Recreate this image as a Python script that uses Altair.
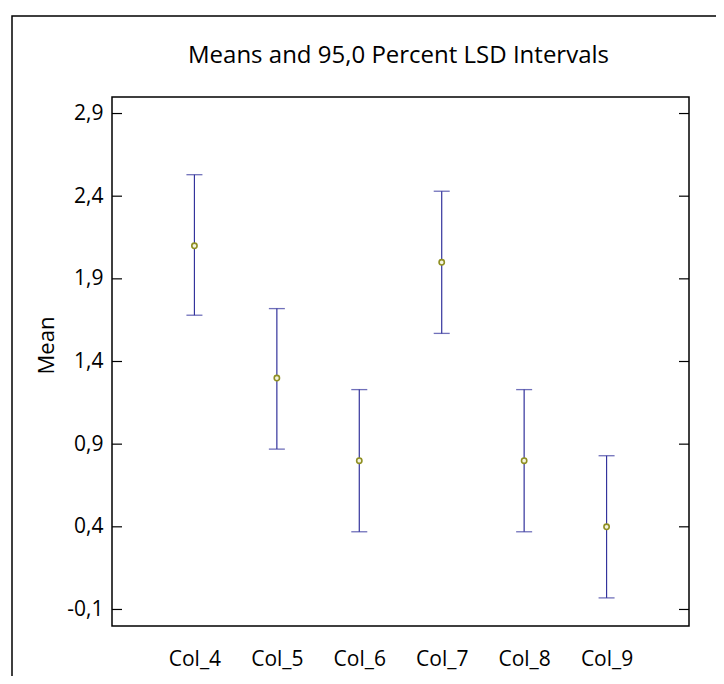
import altair as alt
import pandas as pd

cols = ["Col_4", "Col_5", "Col_6", "Col_7", "Col_8", "Col_9"]
means = [2.10, 1.30, 0.80, 2.00, 0.80, 0.40]
lower = [1.68, 0.87, 0.37, 1.57, 0.37, -0.03]
upper = [2.53, 1.72, 1.23, 2.43, 1.23, 0.83]
ytick_values = [-0.1, 0.4, 0.9, 1.4, 1.9, 2.4, 2.9]
title_text = "Means and 95,0 Percent LSD Intervals"

W, H = 577, 529
FONT = "Open Sans"
BAR = "#33339c"

df = pd.DataFrame({"col": cols, "mean": means, "lower": lower, "upper": upper})
df_ticks = pd.DataFrame({"v": ytick_values})
df_one = pd.DataFrame({"k": [0]})

yscale = alt.Scale(domain=[-0.2, 3.0], nice=False, zero=False)
xscale = alt.Scale(type="point", padding=1.06)
xenc = alt.X(
    "col:N", sort=cols, scale=xscale,
    axis=alt.Axis(title=None, labelAngle=0, ticks=False, domain=False,
                  labelPadding=22, labelFontSize=21, labelFont=FONT,
                  labelColor="black"),
)

rules = alt.Chart(df).mark_rule(color=BAR, strokeWidth=1.2).encode(
    x=xenc,
    y=alt.Y(
        "lower:Q", scale=yscale,
        axis=alt.Axis(
            values=ytick_values, ticks=False, domain=False, grid=False,
            labelExpr="replace(replace(format(datum.value, '.1f'), '.', ','), '\u2212', '-')",
            labelFontSize=21, labelFont=FONT, labelColor="black", labelPadding=9,
            title="Mean", titleFontSize=22, titleFont=FONT, titleFontWeight="normal",
            titleColor="black", titleX=-66, titleY=248, titleBaseline="middle",
            titleAlign="center",
        ),
    ),
    y2="upper:Q",
)

caps_lo = alt.Chart(df).mark_tick(color=BAR, size=16, thickness=1.3).encode(
    x=xenc, y=alt.Y("lower:Q", scale=yscale)
)
caps_hi = alt.Chart(df).mark_tick(color=BAR, size=16, thickness=1.3).encode(
    x=xenc, y=alt.Y("upper:Q", scale=yscale)
)
points = alt.Chart(df).mark_point(
    shape="circle", size=28, filled=False, color="#8f8f22", strokeWidth=1.6,
    fill="#f4f4e0", fillOpacity=1,
).encode(x=xenc, y=alt.Y("mean:Q", scale=yscale))

ticks_left = alt.Chart(df_ticks).mark_rule(color="black", strokeWidth=1.2).encode(
    x=alt.value(0), x2=alt.value(10), y=alt.Y("v:Q", scale=yscale)
)
ticks_right = alt.Chart(df_ticks).mark_rule(color="black", strokeWidth=1.2).encode(
    x=alt.value(W - 10), x2=alt.value(W), y=alt.Y("v:Q", scale=yscale)
)
frame = alt.Chart(df_one).mark_rect(
    fill="transparent", stroke="black", strokeWidth=1.5
).encode(
    x=alt.value(-100), x2=alt.value(W + 60), y=alt.value(-81), y2=alt.value(H + 80)
)
title = alt.Chart(df_one).mark_text(
    font=FONT, fontSize=24, color="black", align="center", baseline="alphabetic"
).encode(
    x=alt.value(W / 2 - 2), y=alt.value(-34), text=alt.value(title_text)
)

chart = (
    alt.layer(frame, title, rules, caps_lo, caps_hi, points, ticks_left, ticks_right)
    .properties(
        width=W, height=H,
        padding={"left": 104, "top": 89, "right": 27, "bottom": 50},
        autosize=alt.AutoSizeParams(type="none"),
    )
    .configure_view(stroke="black", strokeWidth=1.5)
    .configure_axis(grid=False)
)

chart.save("out.html", embed_options={"renderer": "svg", "actions": False})
